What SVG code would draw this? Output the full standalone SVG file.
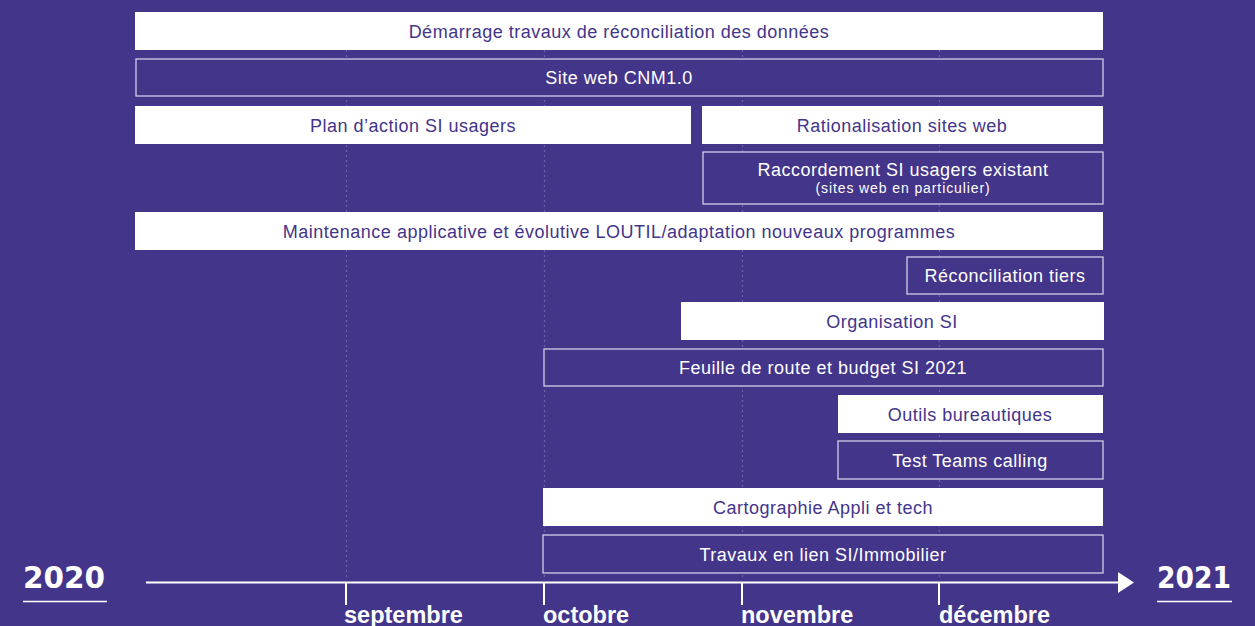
<svg xmlns="http://www.w3.org/2000/svg" width="1255" height="626" viewBox="0 0 1255 626">
<style>
.bg{fill:#43358a}
.fill{fill:#ffffff}
.out{fill:none;stroke:#d2cde6;stroke-width:1.3}
.t{font-family:"Liberation Sans",Arial,sans-serif;font-size:18px;letter-spacing:0.5px;text-anchor:middle}
.s{font-size:14px;letter-spacing:0.9px}
.tp{fill:#43358a}
.tw{fill:#ffffff}
.grid{stroke:#6c61a6;stroke-width:1.2;stroke-dasharray:2 3}
.axis{stroke:#ffffff;stroke-width:2;fill:none}
.month{font-family:"Liberation Sans",Arial,sans-serif;font-weight:bold;font-size:23.5px;fill:#ffffff}
.year{font-family:"DejaVu Sans",sans-serif;font-weight:bold;font-size:30px;fill:#ffffff}
</style>
<rect class="bg" x="0" y="0" width="1255" height="626"/>
<g id="grid">
<line class="grid" x1="346.5" y1="50" x2="346.5" y2="580"/>
<line class="grid" x1="544.5" y1="50" x2="544.5" y2="580"/>
<line class="grid" x1="742.5" y1="50" x2="742.5" y2="580"/>
<line class="grid" x1="939.5" y1="50" x2="939.5" y2="580"/>
</g>
<g id="n1"><rect class="fill" x="135" y="12" width="968" height="38"/><text class="t tp" x="619" y="38">Démarrage travaux de réconciliation des données</text></g>
<g id="n2"><rect class="bg" x="136" y="59" width="967" height="37"/><rect class="out" x="136" y="59" width="967" height="37"/><text class="t tw" x="619" y="84">Site web CNM1.0</text></g>
<g id="n3"><rect class="fill" x="135" y="106" width="556" height="38"/><text class="t tp" x="413" y="132">Plan d’action SI usagers</text></g>
<g id="n4"><rect class="fill" x="702" y="106" width="401" height="38"/><text class="t tp" x="902" y="132">Rationalisation sites web</text></g>
<g id="n5"><rect class="bg" x="703" y="152" width="400" height="52"/><rect class="out" x="703" y="152" width="400" height="52"/><text class="t tw" x="903" y="176">Raccordement SI usagers existant</text><text class="t s tw" x="903" y="193">(sites web en particulier)</text></g>
<g id="n6"><rect class="fill" x="135" y="212" width="968" height="38"/><text class="t tp" x="619" y="238">Maintenance applicative et évolutive LOUTIL/adaptation nouveaux programmes</text></g>
<g id="n7"><rect class="bg" x="907" y="257" width="196" height="37"/><rect class="out" x="907" y="257" width="196" height="37"/><text class="t tw" x="1005" y="282">Réconciliation tiers</text></g>
<g id="n8"><rect class="fill" x="681" y="302" width="423" height="38"/><text class="t tp" x="892" y="328">Organisation SI</text></g>
<g id="n9"><rect class="bg" x="544" y="349" width="559" height="37"/><rect class="out" x="544" y="349" width="559" height="37"/><text class="t tw" x="823" y="374">Feuille de route et budget SI 2021</text></g>
<g id="n10"><rect class="fill" x="838" y="395" width="265" height="38"/><text class="t tp" x="970" y="421">Outils bureautiques</text></g>
<g id="n11"><rect class="bg" x="838" y="441" width="265" height="38"/><rect class="out" x="838" y="441" width="265" height="38"/><text class="t tw" x="970" y="467">Test Teams calling</text></g>
<g id="n12"><rect class="fill" x="543" y="488" width="560" height="38"/><text class="t tp" x="823" y="514">Cartographie Appli et tech</text></g>
<g id="n13"><rect class="bg" x="543" y="535" width="560" height="38"/><rect class="out" x="543" y="535" width="560" height="38"/><text class="t tw" x="823" y="561">Travaux en lien SI/Immobilier</text></g>
<g id="axis">
<line class="axis" x1="146" y1="582.5" x2="1120" y2="582.5"/>
<polygon points="1118,572 1134,582.5 1118,593" fill="#ffffff"/>
<line class="axis" x1="346" y1="582" x2="346" y2="605"/>
<line class="axis" x1="544" y1="582" x2="544" y2="605"/>
<line class="axis" x1="742" y1="582" x2="742" y2="605"/>
<line class="axis" x1="939" y1="582" x2="939" y2="605"/>
<text class="month" x="344" y="623">septembre</text>
<text class="month" x="543" y="623">octobre</text>
<text class="month" x="741" y="623">novembre</text>
<text class="month" x="939" y="623">décembre</text>
<text class="year" x="23" y="588" textLength="82" lengthAdjust="spacingAndGlyphs">2020</text>
<line x1="23" y1="601.5" x2="107" y2="601.5" stroke="#ffffff" stroke-width="1.5"/>
<text class="year" x="1157" y="588" textLength="74" lengthAdjust="spacingAndGlyphs">2021</text>
<line x1="1157" y1="601.5" x2="1232" y2="601.5" stroke="#ffffff" stroke-width="1.5"/>
</g>
</svg>
